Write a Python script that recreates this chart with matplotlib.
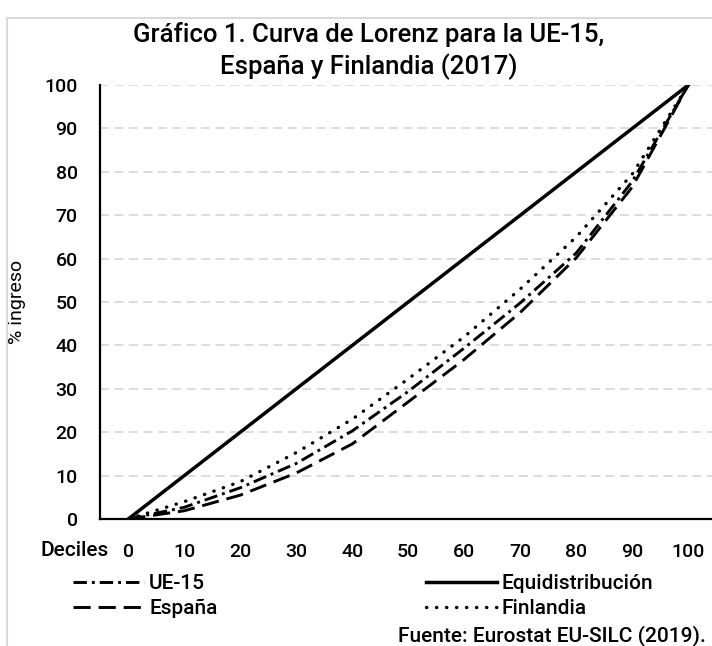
import matplotlib
matplotlib.use("Agg")
import matplotlib.pyplot as plt
from matplotlib.patches import Rectangle

deciles = [0, 10, 20, 30, 40, 50, 60, 70, 80, 90, 100]
ue15 = [0, 2.7, 7.2, 12.8, 20.3, 29.4, 39.4, 49.8, 61.3, 77.8, 100]
espana = [0, 1.9, 5.5, 10.6, 17.3, 27.0, 36.8, 47.6, 60.2, 76.5, 100]
finlandia = [0, 4.0, 8.6, 15.3, 23.0, 32.3, 42.0, 53.0, 65.0, 79.5, 100]
equidistribucion = [0, 10, 20, 30, 40, 50, 60, 70, 80, 90, 100]
yticks = [0, 10, 20, 30, 40, 50, 60, 70, 80, 90, 100]

title = "Gráfico 1. Curva de Lorenz para la UE-15,\nEspaña y Finlandia (2017)"
source = "Fuente: Eurostat EU-SILC (2019)."

plt.rcParams['font.family'] = ['Roboto', 'DejaVu Sans']
plt.rcParams['font.weight'] = 'medium'
W, H = 712, 646
fig = plt.figure(figsize=(W / 100, H / 100), dpi=100)

# chart-area border (Excel style, cropped)
fig.patches.append(Rectangle((7 / W, -0.1), 1.2, (H - 18) / H + 0.1, transform=fig.transFigure,
                             fill=False, edgecolor='#d9d9d9', linewidth=1.5))

ax = fig.add_axes([100 / W, (H - 519) / H, (W - 100) / W + 0.01, (519 - 85) / H])
ax.set_xlim(-5.05, 105.5)
ax.set_ylim(0, 100)

ax.yaxis.grid(True, color='#d9d9d9', linestyle=(0, (5, 3)), linewidth=1.3)
ax.set_axisbelow(True)

lw = 2.1
l_ue, = ax.plot(deciles, ue15, color='black', lw=lw, linestyle=(0, (4.6, 1.7, 1.0, 1.7)),
                label='UE-15', dash_capstyle='butt')
l_es, = ax.plot(deciles, espana, color='black', lw=lw, linestyle=(0, (5.9, 2.7)),
                label='España', dash_capstyle='butt')
l_eq, = ax.plot(deciles, equidistribucion, color='black', lw=2.5, linestyle='-',
                label='Equidistribución')
l_fi, = ax.plot(deciles, finlandia, color='black', lw=2.4, linestyle=(0, (0.1, 2.9)),
                label='Finlandia', dash_capstyle='round')

for s in ['top', 'right']:
    ax.spines[s].set_visible(False)
for s in ['left', 'bottom']:
    ax.spines[s].set_linewidth(1.6)
    ax.spines[s].set_color('black')

ax.set_xticks(deciles)
ax.set_xticklabels([str(d) for d in deciles])
ax.set_yticks(yticks)
ax.set_yticklabels([str(v) for v in yticks])
ax.tick_params(axis='both', length=0, labelsize=14)
ax.tick_params(axis='y', pad=16)
ax.tick_params(axis='x', pad=17)

ax.set_ylabel('% ingreso', fontsize=14)
ax.yaxis.set_label_coords(-(100 - 27) / 612, 0.5)

fig.text(41 / W, 1 - 551 / H, 'Deciles', fontsize=15, ha='left', va='center')

fig.text(369 / W, 1 - 51 / H, title, fontsize=18.5, ha='center', va='center', linespacing=1.35)

leg = fig.legend(handles=[l_ue, l_es, l_eq, l_fi], ncol=2, loc='upper left',
                 bbox_to_anchor=(73 / W, 1 - 574 / H), frameon=False, fontsize=15,
                 handlelength=3.4, handletextpad=0.25, columnspacing=10.0,
                 labelspacing=0.3, borderaxespad=0, borderpad=0)

fig.text(706 / W, 1 - 636 / H, source, fontsize=15, ha='right', va='center')

fig.savefig('out.png', dpi=100)
